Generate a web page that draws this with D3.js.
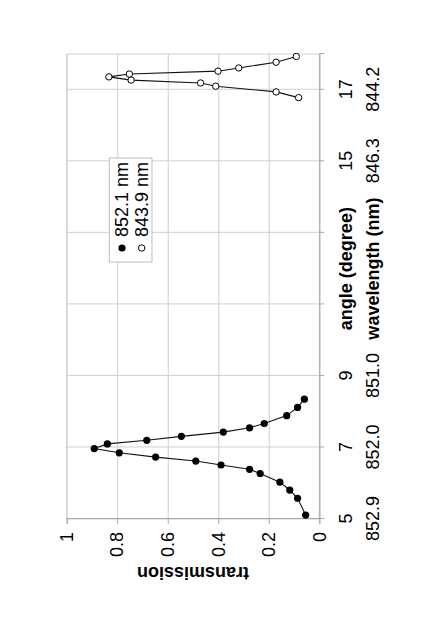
<!DOCTYPE html>
<html><head><meta charset="utf-8">
<script src="https://cdn.jsdelivr.net/npm/d3@7"></script>
<style>
html,body{margin:0;padding:0;background:#fff;}
text{font-family:"Liberation Sans",Arial,sans-serif;fill:#000;}
</style></head>
<body>
<svg id="chart" width="436" height="623"></svg>
<script>
// ---- data ----
const angle852 = [5.11, 5.58, 5.81, 6.03, 6.27, 6.39, 6.51, 6.62, 6.73, 6.85, 6.97, 7.10, 7.20, 7.31, 7.43, 7.55, 7.67, 7.89, 8.12, 8.35];
const trans852 = [0.054, 0.086, 0.117, 0.156, 0.234, 0.276, 0.389, 0.489, 0.648, 0.792, 0.891, 0.839, 0.683, 0.546, 0.380, 0.276, 0.218, 0.129, 0.086, 0.059];
const angle843 = [16.78, 16.94, 17.10, 17.19, 17.27, 17.36, 17.44, 17.52, 17.61, 17.77, 17.93];
const trans843 = [0.082, 0.171, 0.410, 0.470, 0.745, 0.833, 0.752, 0.401, 0.319, 0.171, 0.091];
const seriesNames = ["852.1 nm", "843.9 nm"];
const angleGrid = [5, 7, 9, 11, 13, 15, 17];
const angleLabelTicks = [5, 7, 9, 15, 17];
const wavelengthLabels = ["852.9", "852.0", "851.0", "846.3", "844.2"];
const transTicks = [0, 0.2, 0.4, 0.6, 0.8, 1];
const transLabels = ["0", "0.2", "0.4", "0.6", "0.8", "1"];

// ---- layout (chart drawn in its own frame, then rotated -90deg) ----
const W = 465, H = 252.6;
const svg = d3.select("#chart");
const g = svg.append("g").attr("transform", "translate(66.7,519) rotate(-90)");
const x = d3.scaleLinear().domain([5, 18]).range([0, W]);
const y = d3.scaleLinear().domain([0, 1]).range([H, 0]);
const gridCol = "#cfcfcf", axisCol = "#a8a8a8";

// gridlines
g.append("g").attr("transform", `translate(0,${H})`)
  .call(d3.axisBottom(x).tickValues(angleGrid).tickSize(-H).tickFormat(""))
  .call(s => s.select(".domain").remove())
  .call(s => s.selectAll("line").attr("stroke", gridCol));
g.append("g")
  .call(d3.axisLeft(y).tickValues(transTicks).tickSize(-W).tickFormat(""))
  .call(s => s.select(".domain").remove())
  .call(s => s.selectAll("line").attr("stroke", gridCol));

// frame
g.append("rect").attr("x", 0).attr("y", 0).attr("width", W).attr("height", H)
  .attr("fill", "none").attr("stroke", gridCol);

// angle axis (outward ticks + labels)
const ax = g.append("g").attr("transform", `translate(0,${H})`)
  .call(d3.axisBottom(x).tickValues(angleGrid).tickSize(5)
    .tickFormat(d => angleLabelTicks.includes(d) ? String(d) : ""));
ax.select(".domain").attr("stroke", axisCol);
ax.selectAll("line").attr("stroke", axisCol);
ax.selectAll("text").attr("y", 32.4).attr("dy", null)
  .style("font-size", "18px").style("font-family", "Liberation Sans, Arial, sans-serif").attr("fill", "#000");

// wavelength label row
const wl = g.append("g").attr("transform", `translate(0,${H})`)
  .call(d3.axisBottom(x).tickValues(angleLabelTicks).tickSize(0)
    .tickFormat((d, i) => wavelengthLabels[i]));
wl.select(".domain").remove();
wl.selectAll("text").attr("y", 59.7).attr("dy", null)
  .style("font-size", "18px").style("font-family", "Liberation Sans, Arial, sans-serif").attr("fill", "#000");

// transmission axis
const ay = g.append("g")
  .call(d3.axisLeft(y).tickValues(transTicks).tickSize(5).tickPadding(8)
    .tickFormat((d, i) => transLabels[i]));
ay.select(".domain").attr("stroke", axisCol);
ay.selectAll("line").attr("stroke", axisCol);
ay.selectAll("text").style("font-size", "18px").style("font-family", "Liberation Sans, Arial, sans-serif").attr("fill", "#000");

// axis titles
g.append("text").attr("x", x(12)).attr("y", H + 32.4).attr("text-anchor", "middle")
  .style("font-size", "18px").style("font-weight", "bold").text("angle (degree)");
g.append("text").attr("x", x(12)).attr("y", H + 59.7).attr("text-anchor", "middle")
  .style("font-size", "18px").style("font-weight", "bold").text("wavelength (nm)");
g.append("text").attr("transform", `translate(-47.5,${H / 2}) rotate(-90)`)
  .attr("text-anchor", "middle")
  .style("font-size", "18px").style("font-weight", "bold").text("transmission");

// series
const line = d3.line().x(d => x(d[0])).y(d => y(d[1]));
const s1 = angle852.map((a, i) => [a, trans852[i]]);
const s2 = angle843.map((a, i) => [a, trans843[i]]);
g.append("path").datum(s1).attr("d", line).attr("fill", "none").attr("stroke", "#111").attr("stroke-width", 1.1);
g.append("path").datum(s2).attr("d", line).attr("fill", "none").attr("stroke", "#111").attr("stroke-width", 1.1);
g.selectAll("circle.s1").data(s1).join("circle").attr("class", "s1")
  .attr("cx", d => x(d[0])).attr("cy", d => y(d[1])).attr("r", 3.6).attr("fill", "#000");
g.selectAll("circle.s2").data(s2).join("circle").attr("class", "s2")
  .attr("cx", d => x(d[0])).attr("cy", d => y(d[1])).attr("r", 3.2)
  .attr("fill", "#fff").attr("stroke", "#000").attr("stroke-width", 1);

// legend
const lg = g.append("g");
lg.append("rect").attr("x", 257).attr("y", 42.6).attr("width", 104).attr("height", 42.7)
  .attr("fill", "#fff").attr("stroke", "#bdbdbd");
const rows = [55.3, 75];
lg.append("circle").attr("cx", 271).attr("cy", rows[0]).attr("r", 3.6).attr("fill", "#000");
lg.append("circle").attr("cx", 271).attr("cy", rows[1]).attr("r", 3.2).attr("fill", "#fff").attr("stroke", "#000");
seriesNames.forEach((n, i) => {
  lg.append("text").attr("x", 282).attr("y", rows[i]).attr("dy", "0.35em")
    .style("font-size", "18px").text(n);
});
</script>
</body></html>
